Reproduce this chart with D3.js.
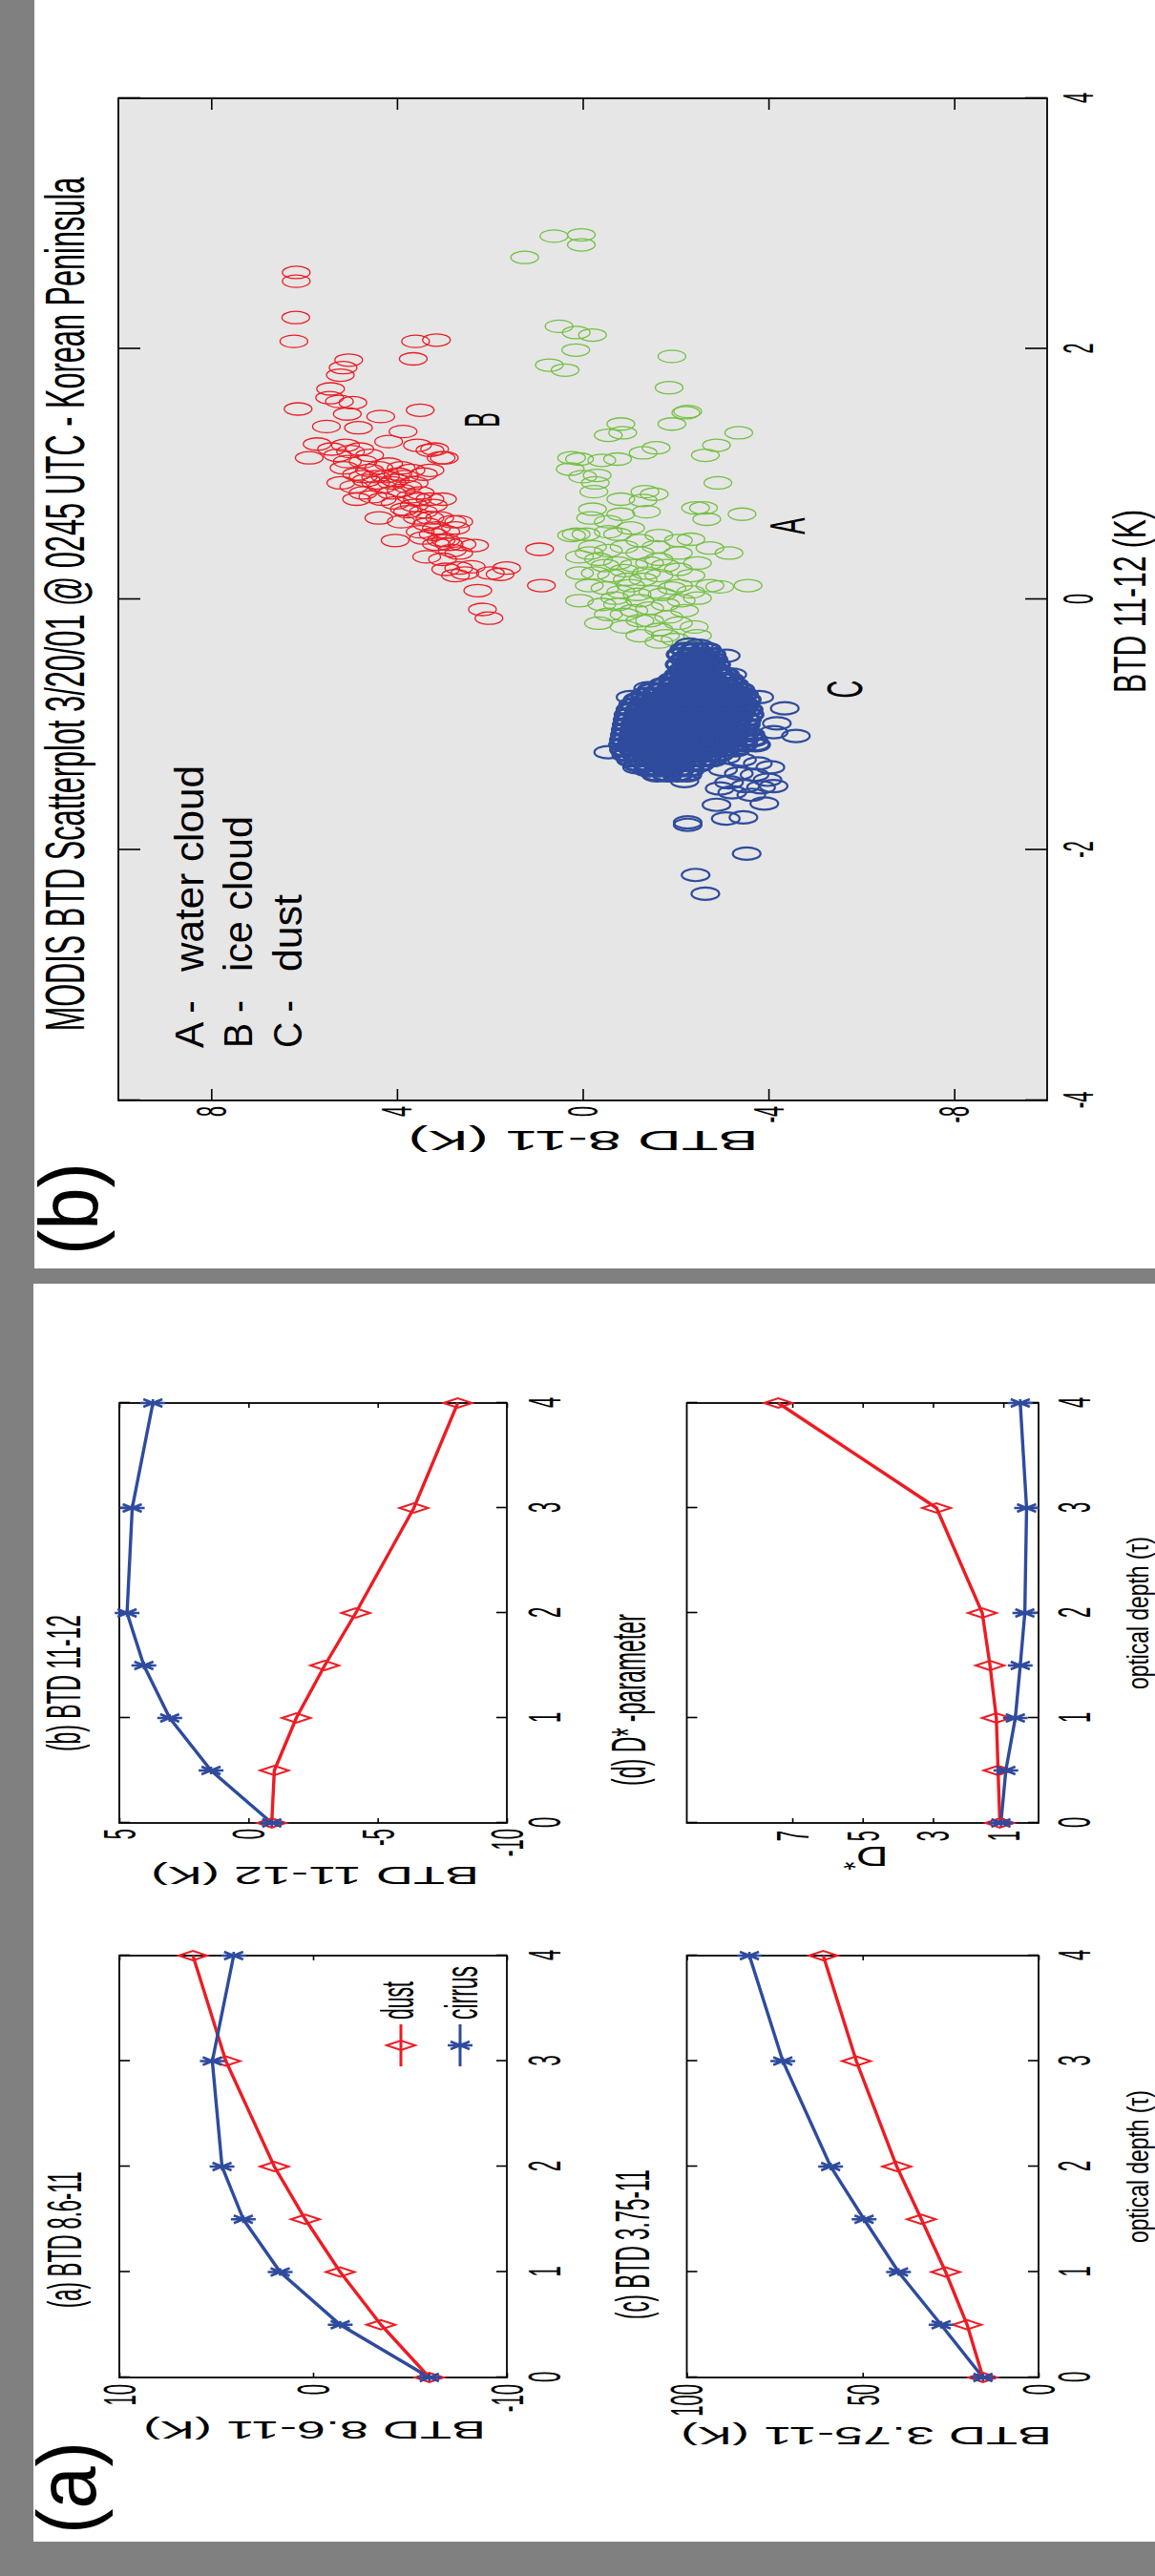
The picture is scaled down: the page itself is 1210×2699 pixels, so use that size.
<!DOCTYPE html>
<html>
<head>
<meta charset="utf-8">
<script src="https://cdn.jsdelivr.net/npm/d3@7"></script>
<style>
body { margin: 0; background: #808080; }
svg { display: block; }
text { font-family: "Liberation Sans", Arial, Helvetica, sans-serif; fill: #000; }
</style>
</head>
<body>
<svg id="chart" width="1210" height="2699"></svg>
<script>
// ---- data: radiative transfer curves (panel a) ----
const tau = [0, 0.5, 1, 1.5, 2, 3, 4]
const tauTicks = [0, 1, 2, 3, 4]

const btd86Dust = [-6, -3.5, -1.4, 0.4, 2.0, 4.5, 6.2]
const btd86Cirrus = [-6, -1.4, 1.7, 3.6, 4.7, 5.2, 4.1]
const btd1112Dust = [-0.9, -1.0, -1.85, -2.95, -4.15, -6.4, -8.1]
const btd1112Cirrus = [-0.9, 1.45, 3.05, 4.05, 4.7, 4.5, 3.7]
const btd375Dust = [15.8, 20.3, 26.4, 33.3, 40.3, 51.8, 61.2]
const btd375Cirrus = [15.8, 27.7, 39.8, 49.6, 59.1, 72.7, 82.2]
const dstarDust = [1.1, 1.15, 1.2, 1.38, 1.6, 2.9, 7.4]
const dstarCirrus = [1.07, 0.93, 0.66, 0.52, 0.39, 0.34, 0.52]

// ---- data: MODIS scatter (panel b), points are [BTD 11-12, BTD 8-11] ----
const scatterTitle = 'MODIS BTD Scatterplot 3/20/01 @ 0245 UTC - Korean Peninsula'
const scatterXTicks = [-4, -2, 0, 2, 4]
const scatterYTicks = [-8, -4, 0, 4, 8]

const iceCloud = [
  [2.61,6.17],[2.54,6.17],[2.25,6.18],[2.06,6.22],[2.06,3.60],[2.07,3.15],[1.92,3.65],[1.91,5.04],
  [1.85,5.16],[1.79,5.22],[1.68,5.43],[1.61,5.45],[1.58,5.24],[1.57,4.95],[1.48,5.07],[1.52,6.13],
  [1.51,3.50],[1.46,4.35],[1.38,5.52],[1.37,4.83],[1.34,3.87],[1.24,5.72],[1.13,5.89],[1.20,5.41],
  [1.23,5.11],[1.26,4.18],[1.23,3.56],[1.19,3.29],[1.13,3.05],
  [1.15,5.28],[1.18,5.00],[1.10,4.73],[1.05,5.14],[1.00,4.87],[1.03,4.59],[1.05,4.39],[1.08,4.18],
  [1.05,3.91],[1.03,3.70],[1.00,3.43],[1.03,3.29],[0.93,5.21],[0.90,4.93],[0.95,4.66],[0.93,4.46],
  [0.98,4.25],[0.95,4.04],[0.98,3.84],[0.93,3.63],[0.82,4.52],[0.80,4.32],[0.85,4.11],[0.87,3.91],
  [0.82,3.70],[0.85,3.50],[0.77,4.04],[0.72,3.84],[0.75,3.63],[0.70,3.43],[0.75,3.22],[0.80,3.02],
  [0.65,4.39],[0.62,3.91],[0.65,3.56],[0.60,3.36],[0.65,3.08],[0.62,2.81],[0.62,2.67],[0.54,3.50],
  [0.52,3.22],[0.54,2.95],[0.57,2.74],[0.47,4.04],[0.49,3.43],[0.44,3.15],[0.44,2.88],[0.44,2.60],
  [0.43,2.33],[0.34,3.36],[0.32,3.02],[0.37,2.67],[0.24,2.95],[0.25,2.67],[0.26,2.40],[0.21,2.54],
  [0.21,1.99],[0.25,1.64],[0.20,1.78],[0.07,2.26],[-0.08,2.16],[-0.15,2.02],[0.40,0.93],[0.11,0.89],
  [1.13,2.98],[1.20,3.19],[0.19,2.74],[0.47,3.05],[0.80,3.29],[0.80,4.87],[0.85,4.73],
  [0.98,4.46],[0.90,4.32],[0.93,4.11],[1.00,3.98],[0.90,3.77],[0.98,4.73],[1.10,5.07],[1.15,4.59],
  [1.20,4.80],[0.80,3.56],[0.70,3.77],[0.65,3.29],[0.57,3.15],[0.47,2.95],[0.39,2.81]
]

const waterCloud = [
  [2.90,0.62],[2.91,0.03],[2.83,0.03],[2.73,1.25],
  [2.18,0.51],[2.13,0.14],[2.11,-0.21],[1.99,0.15],[1.87,0.72],[1.83,0.38],
  [1.94,-1.92],[1.69,-1.86],[1.50,-2.26],[1.49,-2.22],[1.40,-1.92],
  [1.33,-3.36],[1.40,-0.82],[1.31,-0.55],[1.33,-0.86],
  [1.17,-1.30],[1.21,-1.58],[1.23,-2.88],[1.15,-2.64],
  [1.13,0.24],[1.12,0.07],[1.11,-0.41],[1.12,-0.75],[1.04,0.27],[0.98,0.00],[0.99,-0.31],[0.93,-0.27],
  [0.93,-2.91],
  [0.86,-0.24],[0.86,-1.34],[0.84,-1.54],[0.80,-0.82],[0.79,-1.30],
  [0.73,-2.43],[0.73,-2.60],[0.64,-2.67],[0.68,-3.43],
  [0.72,-0.21],[0.68,-0.82],[0.70,-1.37],[0.65,-0.17],[0.62,-0.55],
  [0.52,-0.07],[0.54,-0.55],[0.57,-1.03],[0.51,-1.64],[0.48,-2.33],[0.41,-2.74],[0.37,-3.15],[0.37,-2.06],
  [0.42,-0.21],[0.39,-0.55],[0.42,-0.89],[0.37,-1.23],[0.42,-1.58],[0.32,-0.34],[0.29,-0.75],[0.27,-1.10],
  [0.29,-1.44],[0.27,-1.78],[0.21,-0.27],[0.19,-0.62],[0.16,-0.96],[0.16,-1.30],[0.19,-1.64],[0.09,-0.48],
  [0.06,-0.82],[0.04,-1.17],[0.06,-1.51],[0.09,-1.92],[0.19,-2.33],[0.10,-2.95],[0.11,-3.56],
  [-0.01,0.07],[-0.04,-0.41],[-0.04,-0.75],[-0.09,-1.10],[-0.07,-1.44],[-0.04,-1.78],[-0.01,-2.12],[0.01,-2.47],
  [-0.19,-0.34],[-0.22,-0.89],[-0.17,-1.23],[-0.24,-1.64],[-0.19,-2.06],[-0.22,-2.40],[-0.34,-1.64],
  [-0.32,-1.99],[-0.29,-2.47],[0.52,0.14],[0.51,0.24],[0.21,0.07],
  [0.37,-0.14],[0.27,-0.48],[0.23,-0.89],[0.21,-1.37],[0.11,-1.03],[0.01,-0.69],[0.04,-1.71],[0.11,-2.06],
  [-0.01,-1.23],[-0.12,-0.89],[-0.17,-1.44],[-0.14,-1.85],[-0.12,-0.55],[0.11,-0.14],[0.34,0.07],[0.24,-2.06],
  [0.06,-2.33],[0.32,-1.64],[0.47,-1.23],[0.52,-0.75],[0.47,-2.06],[0.29,-2.47],[0.11,-2.74],[-0.09,-2.19],
  [-0.29,-1.78],[-0.29,-1.23],[-0.37,-2.26]
]

// dust: scattered points plus the dense core read row by row [BTD 11-12, [BTD 8-11 ...]]
const dustLoose = [
  [-0.87,-4.35],[-0.99,-4.18],[-1.09,-4.59],[-1.06,-4.11],[-0.45,-3.08],[-0.60,-3.22],[-0.78,-3.80],
  [-0.71,-1.41],[-0.78,-1.03],[-1.22,-0.55],[-1.64,-2.88],[-1.75,-3.08],[-1.74,-3.46],[-1.78,-2.26],
  [-1.80,-2.26],[-2.03,-3.53],[-2.20,-2.43],[-2.35,-2.64],[-1.45,-2.19],[-1.40,-1.58],[-1.34,-1.17],
  [-0.36,-2.3],[-0.37,-2.5],
  [-1.26,-3.08],[-1.28,-3.43],[-1.31,-3.77],[-1.34,-4.04],[-1.36,-3.02],[-1.39,-3.36],[-1.40,-3.70],
  [-1.44,-3.98],[-1.46,-3.15],[-1.49,-3.50],[-1.50,-3.84],[-1.49,-4.11],[-1.54,-3.22],[-1.56,-3.63],
  [-1.63,-3.91],[-1.51,-2.95]
]
const dustCore = [
  [-0.40, [-2.2, -2.42, -2.66]],
  [-0.44, [-2.12, -2.33, -2.55, -2.76]],
  [-0.48, [-2.2, -2.44, -2.65, -2.8]],
  [-0.52, [-2.1, -2.3, -2.52, -2.72, -2.86]],
  [-0.56, [-2.18, -2.4, -2.62, -2.84]],
  [-0.60, [-2.08, -2.27, -2.5, -2.7, -2.92, -3.05]],
  [-0.64, [-1.95, -2.16, -2.38, -2.6, -2.8, -3.0, -3.15]],
  [-0.68, [-1.75, -1.97, -2.2, -2.42, -2.64, -2.85, -3.06, -3.25]],
  [-0.72, [-1.5, -1.7, -1.9, -2.1, -2.3, -2.52, -2.74, -2.96, -3.18, -3.38]],
  [-0.76, [-1.35, -1.58, -1.8, -2.02, -2.24, -2.45, -2.66, -2.88, -3.1, -3.3, -3.46]],
  [-0.80, [-1.2, -1.42, -1.65, -1.86, -2.08, -2.3, -2.52, -2.74, -2.95, -3.16, -3.37, -3.52]],
  [-0.84, [-1.1, -1.3, -1.52, -1.74, -1.96, -2.18, -2.4, -2.6, -2.82, -3.04, -3.26, -3.48]],
  [-0.88, [-1.04, -1.24, -1.46, -1.68, -1.9, -2.12, -2.34, -2.56, -2.78, -3.0, -3.22, -3.42, -3.56]],
  [-0.92, [-1.0, -1.2, -1.4, -1.62, -1.84, -2.05, -2.26, -2.48, -2.7, -2.92, -3.14, -3.36, -3.58]],
  [-0.96, [-0.98, -1.18, -1.38, -1.58, -1.78, -2.0, -2.22, -2.44, -2.66, -2.88, -3.1, -3.32, -3.52]],
  [-1.00, [-0.96, -1.14, -1.34, -1.55, -1.76, -1.97, -2.18, -2.4, -2.62, -2.84, -3.06, -3.28, -3.5]],
  [-1.04, [-0.94, -1.12, -1.32, -1.52, -1.74, -1.95, -2.16, -2.38, -2.6, -2.82, -3.04, -3.26, -3.46]],
  [-1.08, [-0.92, -1.1, -1.3, -1.5, -1.72, -1.93, -2.14, -2.36, -2.58, -2.8, -3.02, -3.24, -3.46, -3.6]],
  [-1.12, [-0.9, -1.08, -1.28, -1.48, -1.7, -1.92, -2.13, -2.35, -2.57, -2.8, -3.02, -3.24, -3.46, -3.66]],
  [-1.16, [-0.88, -1.06, -1.26, -1.47, -1.68, -1.9, -2.12, -2.34, -2.56, -2.78, -3.0, -3.22, -3.44, -3.72]],
  [-1.20, [-0.9, -1.1, -1.3, -1.52, -1.74, -1.96, -2.18, -2.4, -2.62, -2.84, -3.06, -3.28]],
  [-1.24, [-0.95, -1.16, -1.38, -1.6, -1.82, -2.04, -2.26, -2.48, -2.7, -2.92]],
  [-1.28, [-1.05, -1.26, -1.48, -1.7, -1.92, -2.14, -2.36, -2.58, -2.78]],
  [-1.32, [-1.2, -1.42, -1.64, -1.86, -2.08, -2.3, -2.5]],
  [-1.36, [-1.42, -1.64, -1.86, -2.08, -2.3]],
  [-1.40, [-1.6, -1.82, -2.04, -2.24]]
]

// ---- colours ----
const red = '#ec1c24'
const blue = '#2e4b9d'
const green = '#74c044'

// the whole figure is drawn upright, then turned a quarter turn
const svg = d3.select('#chart')
svg.append('rect').attr('width', 1210).attr('height', 2699).attr('fill', '#808080')
const fig = svg.append('g').attr('transform', 'translate(0,2699) rotate(-90)')

fig.append('rect').attr('x', 36).attr('y', 35).attr('width', 1318).attr('height', 1175).attr('fill', '#fff')
fig.append('rect').attr('x', 1370).attr('y', 36).attr('width', 1329).attr('height', 1174).attr('fill', '#fff')

function fitText(parent, str, size, len, anchor, place) {
  const t = parent.append('text')
    .attr('font-size', size)
    .attr('text-anchor', anchor || 'start')
    .text(str)
  const w = t.node().getComputedTextLength()
  t.attr('transform', `${place} scale(${len / w},1)`)
  return t
}
function label(parent, str, x, y, size, len, anchor) {
  return fitText(parent, str, size, len, anchor, `translate(${x},${y})`)
}
function vlabel(parent, str, x, y, size, len) {
  return fitText(parent, str, size, len, 'middle', `translate(${x},${y}) rotate(-90)`)
}
function squeezed(parent, str, x, y, size, sx) {
  return parent.append('text')
    .attr('transform', `translate(${x},${y}) scale(${sx},1)`)
    .attr('font-size', size)
    .attr('text-anchor', 'middle')
    .text(str)
}

// box + mirrored inward ticks, MATLAB style
function drawAxes(g, xs, ys, o) {
  const [x0, x1] = xs.range()
  const [yb, yt] = ys.range()
  const fmt = d => String(d)

  const bottom = g.append('g').attr('transform', `translate(0,${yb})`)
    .call(d3.axisBottom(xs).tickValues(o.xTicks).tickSizeInner(-o.xLen).tickSizeOuter(0).tickFormat(fmt))
  bottom.selectAll('text')
    .attr('y', o.xBase).attr('dy', null)
    .attr('font-size', o.fs)
    .attr('transform', `scale(${o.sx},1)`)

  g.append('g').attr('transform', `translate(0,${yt})`)
    .call(d3.axisTop(xs).tickValues(o.xTicks).tickSizeInner(-o.xLen).tickSizeOuter(0).tickFormat(''))

  const left = g.append('g').attr('transform', `translate(${x0},0)`)
    .call(d3.axisLeft(ys).tickValues(o.yTicks).tickSizeInner(-o.yLen).tickSizeOuter(0).tickFormat(fmt))
  left.selectAll('text')
    .attr('x', -o.yGap / o.sx).attr('dy', '0.34em')
    .attr('font-size', o.fs)
    .attr('transform', `scale(${o.sx},1)`)

  g.append('g').attr('transform', `translate(${x1},0)`)
    .call(d3.axisRight(ys).tickValues(o.yTicks).tickSizeInner(-o.yLen).tickSizeOuter(0).tickFormat(''))

  g.selectAll('.domain').remove()
  g.selectAll('.tick line').attr('stroke', '#000').attr('stroke-width', 1.6)
  g.append('rect')
    .attr('x', x0).attr('y', yt).attr('width', x1 - x0).attr('height', yb - yt)
    .attr('fill', 'none').attr('stroke', '#000').attr('stroke-width', 1.8)
}

// ================= panel (a): four small plots =================
const diamond = 'M0,-15L5,0L0,15L-5,0Z'
const star = 'M0,-13L0,13M-4,0L4,0M-4,-10L4,10M-4,10L4,-10'

const subplots = [
  { title: '(a) BTD 8.6-11', tx: 281, ty: 85, tlen: 143, u: [208, 650], v: [531, 125], dom: [-10, 10], ticks: [-10, 0, 10],
    dust: btd86Dust, cirrus: btd86Cirrus, ylab: 'BTD 8.6-11 (K)', yl: [162, 329.5, 359], xBase: 56, yGap: 7 },
  { title: '(b) BTD 11-12', tx: 864, ty: 84, tlen: 143, u: [789, 1229], v: [531, 125], dom: [-10, 5], ticks: [-10, -5, 0, 5],
    dust: btd1112Dust, cirrus: btd1112Cirrus, ylab: 'BTD 11-12 (K)', yl: [743, 330, 344], xBase: 56, yGap: 6 },
  { title: '(c) BTD 3.75-11', tx: 269, ty: 680, tlen: 157, u: [208, 650], v: [1088, 719.5], dom: [0, 100], ticks: [0, 50, 100],
    dust: btd375Dust, cirrus: btd375Cirrus, ylab: 'BTD 3.75-11 (K)', yl: [156, 907.5, 389], xBase: 54, yGap: 7, xlab: true },
  { title: '(d) D* -parameter', tx: 828, ty: 676, tlen: 180, u: [789, 1229], v: [1088, 719.5], dom: [0, 10], ticks: [1, 3, 5, 7],
    dust: dstarDust, cirrus: dstarCirrus, ylab: null, xBase: 54, yGap: 8, xlab: true }
]

subplots.forEach(p => {
  const g = fig.append('g')
  const xs = d3.scaleLinear().domain([0, 4]).range(p.u)
  const ys = d3.scaleLinear().domain(p.dom).range(p.v)

  drawAxes(g, xs, ys, { xTicks: tauTicks, yTicks: p.ticks, xLen: 11, yLen: 5, fs: 48, sx: 0.42, xBase: p.xBase, yGap: p.yGap })

  const line = d3.line().x((d, i) => xs(tau[i])).y(d => ys(d))
  g.append('path').datum(p.dust).attr('d', line).attr('fill', 'none').attr('stroke', red).attr('stroke-width', 3.4)
  g.append('path').datum(p.cirrus).attr('d', line).attr('fill', 'none').attr('stroke', blue).attr('stroke-width', 3.4)

  g.selectAll('.dmk').data(p.dust).join('path')
    .attr('transform', (d, i) => `translate(${xs(tau[i])},${ys(d)})`)
    .attr('d', diamond).attr('fill', 'none').attr('stroke', red).attr('stroke-width', 2)
  g.selectAll('.cmk').data(p.cirrus).join('path')
    .attr('transform', (d, i) => `translate(${xs(tau[i])},${ys(d)})`)
    .attr('d', star).attr('fill', 'none').attr('stroke', blue).attr('stroke-width', 2.6)

  label(g, p.title, p.tx, p.ty, 50, p.tlen)
  if (p.ylab) vlabel(g, p.ylab, p.yl[0], p.yl[1], 25, p.yl[2])
  if (p.xlab) label(g, 'optical depth (\u03c4)', (p.u[0] + p.u[1]) / 2, 1203, 32, 160, 'middle')
})

// D* axis label
const dlab = fig.append('text')
  .attr('transform', 'translate(764,907) rotate(-90) scale(1.6,1)')
  .attr('font-size', 29).attr('text-anchor', 'middle')
dlab.append('tspan').text('D')
dlab.append('tspan').attr('dy', -9).attr('font-size', 22).text('*')

// legend of plot (a)
const leg = fig.append('g')
const legRows = [
  { name: 'dust', v: 420, base: 433, len: 40, color: red, mark: diamond, sw: 2 },
  { name: 'cirrus', v: 482, base: 500, len: 56, color: blue, mark: star, sw: 2.6 }
]
legRows.forEach(r => {
  leg.append('line').attr('x1', 534).attr('x2', 578).attr('y1', r.v).attr('y2', r.v)
    .attr('stroke', r.color).attr('stroke-width', 3)
  leg.append('path').attr('transform', `translate(556,${r.v})`).attr('d', r.mark)
    .attr('fill', 'none').attr('stroke', r.color).attr('stroke-width', r.sw)
  label(leg, r.name, 583, r.base, 48, r.len)
})

label(fig, '(a)', 44, 100, 88, 97)

// ================= panel (b): scatter =================
const sc = fig.append('g')
const sx = d3.scaleLinear().domain([-4, 4]).range([1546, 2596])
const sy = d3.scaleLinear().domain([-10, 10]).range([1097, 124])

sc.append('rect').attr('x', 1546).attr('y', 124).attr('width', 1050).attr('height', 973).attr('fill', '#e6e6e6')

function rings(data, color, sw) {
  sc.append('g').selectAll('ellipse').data(data).join('ellipse')
    .attr('cx', d => sx(d[0])).attr('cy', d => sy(d[1]))
    .attr('rx', 6.5).attr('ry', 14.5)
    .attr('fill', 'none').attr('stroke', color).attr('stroke-width', sw)
}
rings(iceCloud, red, 1.3)
rings(waterCloud, green, 1.3)
rings(dustLoose, blue, 2.2)
rings(dustCore.flatMap(([b, as]) => as.map(a => [b, a])), blue, 3.6)

drawAxes(sc, sx, sy, { xTicks: scatterXTicks, yTicks: scatterYTicks, xLen: 23, yLen: 12, fs: 44, sx: 0.45, xBase: 48, yGap: 6 })

label(sc, scatterTitle, 2066, 88, 58, 895, 'middle')
label(sc, 'BTD 11-12 (K)', 2069, 1200, 48, 192, 'middle')
vlabel(sc, 'BTD 8-11 (K)', 1514, 611, 29, 367)

const keyRows = [
  { tag: 'A -', name: 'water cloud', v: 213, len: 216 },
  { tag: 'B -', name: 'ice cloud', v: 264, len: 163 },
  { tag: 'C -', name: 'dust', v: 316, len: 81 }
]
keyRows.forEach(k => {
  label(sc, k.tag, 1601, k.v, 42, 50)
  label(sc, k.name, 1681, k.v, 42, k.len)
})

squeezed(sc, 'B', 2259, 523, 52, 0.45)
squeezed(sc, 'A', 2148, 843, 52, 0.5)
squeezed(sc, 'C', 1977, 903, 52, 0.5)

label(fig, '(b)', 1384, 102, 88, 97)
</script>
</body>
</html>
